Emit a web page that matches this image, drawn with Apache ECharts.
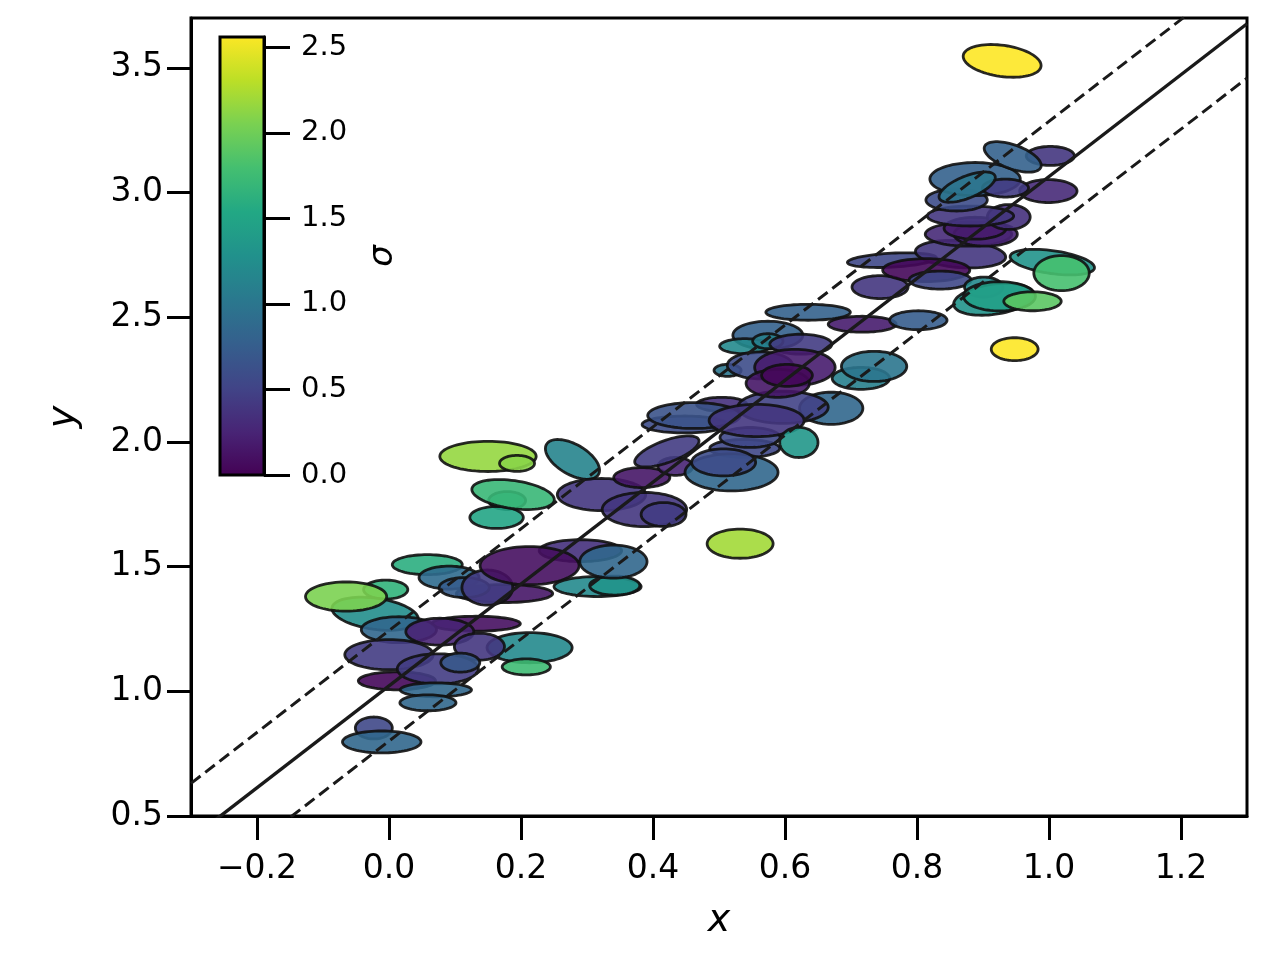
<!DOCTYPE html>
<html>
<head>
<meta charset="utf-8">
<script src="https://cdn.jsdelivr.net/npm/echarts@6/dist/echarts.min.js"></script>
<style>html,body{margin:0;padding:0;background:#fff}#c{width:1280px;height:960px}</style>
</head>
<body>
<div id="c"></div>
<script>
// ---- data ----
const ellX = [-0.005,-0.021,-0.065,0.132,0.015,0.077,0.213,0.137,0.208,0.000,0.012,0.074,0.108,0.071,0.059,-0.023,-0.011,
  0.058,0.091,0.175,0.114,0.149,0.290,0.213,0.316,0.342,0.340,
  0.150,0.194,0.278,0.179,0.163,0.188,0.322,0.387,0.416,0.383,0.434,0.421,
  0.504,0.448,0.462,0.670,0.597,0.539,0.547,0.557,0.621,0.519,0.507,0.532,
  0.574,0.539,0.574,0.624,0.513,0.562,0.615,0.589,0.603,
  0.635,0.717,0.802,0.715,0.735,
  0.744,0.762,0.866,0.814,0.835,
  1.005,1.019,0.901,0.916,0.925,0.975,0.948,
  0.878,0.904,0.888,0.939,0.881,0.860,0.999,0.888,0.934,0.876,1.002,0.945,0.929];
const ellY = [1.408,1.311,1.380,1.271,1.247,1.239,1.175,1.179,1.098,1.147,1.042,1.090,1.115,1.006,0.954,0.853,0.797,
  1.508,1.456,1.392,1.416,1.416,1.564,1.504,1.420,1.424,1.520,
  1.942,1.914,1.930,1.765,1.697,1.789,1.789,1.729,1.709,1.857,1.902,1.962,
  2.151,2.070,2.106,2.135,2.139,1.974,2.018,2.086,1.998,1.878,1.918,1.592,
  2.428,2.384,2.404,2.392,2.287,2.307,2.299,2.235,2.267,
  2.520,2.472,2.488,2.255,2.303,
  2.621,2.729,2.753,2.689,2.649,
  2.721,2.677,2.621,2.572,2.584,2.564,2.372,
  2.833,2.833,2.857,2.902,2.906,2.970,3.006,3.054,3.018,3.022,3.147,3.143,3.528];
const ellW = [0.067,0.132,0.123,0.134,0.114,0.103,0.129,0.076,0.073,0.134,0.117,0.123,0.059,0.108,0.085,0.056,0.119,
  0.106,0.091,0.146,0.076,0.077,0.125,0.150,0.132,0.076,0.102,
  0.146,0.053,0.091,0.056,0.081,0.126,0.134,0.128,0.068,0.085,0.053,0.103,
  0.076,0.129,0.140,0.096,0.137,0.106,0.091,0.144,0.058,0.141,0.097,0.100,
  0.106,0.076,0.046,0.094,0.041,0.099,0.122,0.096,0.077,
  0.128,0.103,0.087,0.087,0.099,
  0.085,0.135,0.137,0.132,0.094,
  0.129,0.084,0.058,0.122,0.109,0.087,0.071,
  0.131,0.096,0.094,0.065,0.131,0.093,0.087,0.137,0.070,0.091,0.073,0.091,0.119];
const ellH = [0.076,0.125,0.117,0.060,0.104,0.108,0.121,0.108,0.064,0.121,0.072,0.121,0.076,0.056,0.064,0.088,0.088,
  0.080,0.092,0.072,0.080,0.141,0.088,0.153,0.080,0.076,0.133,
  0.121,0.064,0.121,0.072,0.088,0.112,0.129,0.137,0.096,0.080,0.072,0.088,
  0.056,0.068,0.104,0.129,0.129,0.072,0.080,0.129,0.121,0.149,0.108,0.117,
  0.112,0.060,0.060,0.080,0.048,0.108,0.145,0.112,0.088,
  0.064,0.064,0.076,0.088,0.121,
  0.092,0.056,0.108,0.092,0.072,
  0.092,0.141,0.080,0.121,0.117,0.076,0.092,
  0.096,0.096,0.088,0.100,0.080,0.088,0.092,0.133,0.072,0.088,0.076,0.096,0.125];
const ellAngle = [0,-8,0,0,0,0,0,0,0,0,0,0,0,0,0,0,0,
  0,0,0,0,0,0,0,0,0,0,
  0,0,-30,0,0,-8,0,0,0,0,0,20,
  0,0,0,0,0,0,0,0,0,0,0,0,
  0,0,0,0,0,0,0,0,0,
  0,0,0,0,0,
  0,3,-4,0,0,
  -8,0,0,8,0,0,0,
  0,0,0,0,0,0,0,0,0,22,0,-20,-8];
const ellSigma = [1.65,1.25,2.05,0.10,0.85,0.25,1.20,0.40,1.75,0.45,0.05,0.45,0.70,0.85,0.85,0.55,0.85,
  1.60,0.90,0.15,0.75,0.45,0.35,0.10,1.20,1.30,0.85,
  2.15,2.10,1.15,1.50,1.50,1.70,0.40,0.40,0.45,0.15,0.25,0.45,
  0.35,0.60,0.65,0.85,0.50,0.55,0.55,0.40,1.35,0.85,0.60,2.20,
  0.80,1.20,1.10,0.45,1.00,0.60,0.20,0.15,0.05,
  0.80,0.20,0.75,1.10,1.00,
  0.40,0.55,0.40,0.05,0.55,
  1.30,1.80,1.20,1.30,1.45,1.90,2.56,
  0.30,0.25,0.20,0.35,0.40,0.60,0.30,0.80,0.45,1.00,0.40,0.80,2.56];

// fitted line and band (endpoint values read at x = -0.3 and x = 1.3)
const lineX = [-0.3, 1.3];
const fitY = [0.409, 3.677];
const upperY = [0.631, 3.898];
const lowerY = [0.187, 3.459];

const xTicks = [-0.2, 0.0, 0.2, 0.4, 0.6, 0.8, 1.0, 1.2];
const yTicks = [0.5, 1.0, 1.5, 2.0, 2.5, 3.0, 3.5];
const cbTicks = [0.0, 0.5, 1.0, 1.5, 2.0, 2.5];
const sigmaMax = 2.56;

const viridis = ['#440154','#482475','#414487','#355f8d','#2a788e','#21918c','#22a884','#44bf70','#7ad151','#bddf26','#fde725'];

// ---- build ----
const FONT = 'DejaVu Sans';
const ellData = ellX.map((x, i) => [x, ellY[i], ellW[i], ellH[i], ellAngle[i], ellSigma[i]]);
const fmt = v => (Math.round(v * 10) / 10).toFixed(1).replace('-', '\u2212');

function renderEllipse(params, api) {
  const c = api.coord([api.value(0), api.value(1)]);
  const s = api.size([api.value(2), api.value(3)]);
  const rx = s[0] / 2, ry = s[1] / 2;
  const a = api.value(4) * Math.PI / 180;
  const ca = Math.cos(a), sa = Math.sin(a);
  const pts = [];
  const N = 72;
  for (let k = 0; k < N; k++) {
    const t = 2 * Math.PI * k / N;
    const px = rx * Math.cos(t), py = ry * Math.sin(t);
    pts.push([c[0] + px * ca - py * sa, c[1] - (px * sa + py * ca)]);
  }
  return {
    type: 'polygon',
    shape: { points: pts },
    style: { fill: api.visual('color'), stroke: '#111', lineWidth: 2.8, opacity: 0.9 }
  };
}

function renderColorbar(params, api) {
  const p0 = api.coord([0, 0]);
  const p1 = api.coord([1, sigmaMax]);
  return {
    type: 'rect',
    shape: { x: p0[0], y: p1[1], width: p1[0] - p0[0], height: p0[1] - p1[1] },
    style: {
      fill: {
        type: 'linear', x: 0, y: 1, x2: 0, y2: 0,
        colorStops: viridis.map((c, i) => ({ offset: i / (viridis.length - 1), color: c }))
      },
      stroke: '#000', lineWidth: 3
    }
  };
}

const tickStyle = { color: '#000', fontFamily: FONT };
const chart = echarts.init(document.getElementById('c'));
chart.setOption({
  backgroundColor: '#fff',
  animation: false,
  grid: [
    { left: 191, right: 33, top: 18, bottom: 144, show: true, borderColor: '#000', borderWidth: 3 },
    { left: 220, top: 37, width: 44, height: 438 }
  ],
  xAxis: [
    {
      type: 'value', gridIndex: 0, min: -0.3, max: 1.3,
      axisLine: { show: true, onZero: false, lineStyle: { color: '#000', width: 3 } },
      axisTick: { show: true, customValues: xTicks, length: 24, lineStyle: { color: '#000', width: 3 } },
      axisLabel: { customValues: xTicks, formatter: fmt, margin: 37, fontSize: 33, ...tickStyle },
      splitLine: { show: false },
      name: 'x', nameLocation: 'middle', nameGap: 86,
      nameTextStyle: { fontSize: 38, fontStyle: 'italic', fontFamily: FONT, color: '#000' }
    },
    { type: 'value', gridIndex: 1, min: 0, max: 1, show: false }
  ],
  yAxis: [
    {
      type: 'value', gridIndex: 0, min: 0.5, max: 3.7,
      axisLine: { show: true, onZero: false, lineStyle: { color: '#000', width: 3 } },
      axisTick: { show: true, customValues: yTicks, length: 24, lineStyle: { color: '#000', width: 3 } },
      axisLabel: { customValues: yTicks, formatter: fmt, margin: 28, fontSize: 33, ...tickStyle },
      splitLine: { show: false },
      name: 'y', nameLocation: 'middle', nameGap: 108, nameRotate: 90,
      nameTextStyle: { fontSize: 38, fontStyle: 'italic', fontFamily: FONT, color: '#000' }
    },
    {
      type: 'value', gridIndex: 1, min: 0, max: sigmaMax, position: 'right', z: 10,
      axisLine: { show: true, onZero: false, lineStyle: { color: '#000', width: 3 } },
      axisTick: { show: true, inside: false, customValues: cbTicks, length: 26, lineStyle: { color: '#000', width: 3 } },
      axisLabel: { customValues: cbTicks, formatter: fmt, margin: 37, fontSize: 29, ...tickStyle },
      splitLine: { show: false },
      name: '\u03c3', nameLocation: 'middle', nameGap: 102, nameRotate: 90,
      nameTextStyle: { fontSize: 34, fontStyle: 'italic', fontFamily: FONT, color: '#000' }
    }
  ],
  visualMap: {
    show: false, type: 'continuous', seriesIndex: 0, dimension: 5,
    min: 0, max: sigmaMax, inRange: { color: viridis }
  },
  series: [
    {
      type: 'custom', xAxisIndex: 0, yAxisIndex: 0, data: ellData,
      renderItem: renderEllipse, z: 2, clip: true
    },
    {
      type: 'line', xAxisIndex: 0, yAxisIndex: 0, data: lineX.map((x, i) => [x, fitY[i]]),
      showSymbol: false, symbol: 'none', lineStyle: { color: '#1a1a1a', width: 3.4 }, z: 5
    },
    {
      type: 'line', xAxisIndex: 0, yAxisIndex: 0, data: lineX.map((x, i) => [x, upperY[i]]),
      showSymbol: false, symbol: 'none', lineStyle: { color: '#1a1a1a', width: 3, type: [12, 6] }, z: 5
    },
    {
      type: 'line', xAxisIndex: 0, yAxisIndex: 0, data: lineX.map((x, i) => [x, lowerY[i]]),
      showSymbol: false, symbol: 'none', lineStyle: { color: '#1a1a1a', width: 3, type: [12, 6] }, z: 5
    },
    {
      type: 'custom', xAxisIndex: 1, yAxisIndex: 1, data: [[0]],
      renderItem: renderColorbar, z: 1
    }
  ]
});
</script>
</body>
</html>
